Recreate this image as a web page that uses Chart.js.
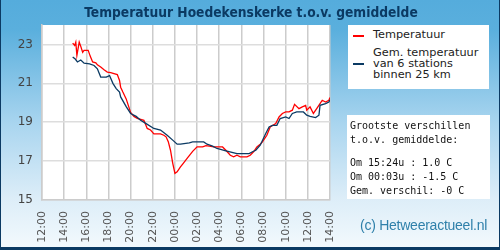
<!DOCTYPE html>
<html>
<head>
  <title>Temperatuur Hoedekenskerke</title>
  <script src="https://cdn.jsdelivr.net/npm/chart.js"></script>
  <style>
    body { margin: 0; }
    #frame {
      position: relative; width: 500px; height: 250px; box-sizing: border-box; overflow: hidden;
      border-left: 1px solid #0b3a63; border-right: 1px solid #0b3a63; border-bottom: 3px solid #0b3a63;
      background: linear-gradient(#55acdc 0%, #5aafdd 12%, #a9d5ef 50%, #dcedf8 80%, #f2f9fd 100%);
      font-family: "DejaVu Sans", sans-serif;
    }
    #chartBox { position: absolute; left: -1px; top: 0; width: 500px; height: 250px; }
    #title {
      position: absolute; left: 0; top: 4px; width: 500px; text-align: center;
      font-family: "DejaVu Sans Condensed", "DejaVu Sans", sans-serif; font-weight: bold; font-size: 13.7px; color: #0b3a63;
    }
    .box { position: absolute; background: #fff; }
    #legend { left: 347px; top: 25px; width: 141px; height: 64px; font-size: 11.3px; color: #222; }
    .leg-line { position: absolute; left: 5px; width: 11px; height: 2px; }
    .leg-text { position: absolute; left: 25px; line-height: 10.8px; }
    #info { left: 346px; top: 115px; width: 143px; height: 84px; font-family: "DejaVu Sans Mono", monospace; font-size: 10px; color: #111; }
    #info div { position: absolute; left: 3px; white-space: pre; }
    #credit {
      position: absolute; left: 359px; top: 217px; font-family: "Liberation Sans", Arial, sans-serif;
      font-size: 14px; letter-spacing: -0.25px; color: #2f80aa;
    }
  </style>
</head>
<body>
<div id="frame">
  <div id="chartBox"><canvas id="tempChart" width="500" height="250"></canvas></div>
  <div id="title">Temperatuur Hoedekenskerke t.o.v. gemiddelde</div>
  <div id="legend" class="box">
    <div class="leg-line" style="top:10px;background:#ff0000"></div>
    <div class="leg-text" style="top:5px">Temperatuur</div>
    <div class="leg-line" style="top:38px;background:#0b3a63"></div>
    <div class="leg-text" style="top:23px">Gem. temperatuur<br>van 6 stations<br>binnen 25 km</div>
  </div>
  <div id="info" class="box">
    <div style="top:5px">Grootste verschillen</div>
    <div style="top:19px">t.o.v. gemiddelde:</div>
    <div style="top:42px">Om 15:24u : 1.0 C</div>
    <div style="top:56px">Om 00:03u : -1.5 C</div>
    <div style="top:70px">Gem. verschil: -0 C</div>
  </div>
  <div id="credit">(c) Hetweeractueel.nl</div>
</div>

<script>
  // x = hours since 12:00 on the first day
  const xTickLabels = ['12:00', '14:00', '16:00', '18:00', '20:00', '22:00', '00:00',
    '02:00', '04:00', '06:00', '08:00', '10:00', '12:00', '14:00'];
  const yTickValues = [15, 17, 19, 21, 23];

  const tempHours = [2.77, 2.95, 3.05, 3.15, 3.36, 3.5, 3.67, 3.8, 4.17, 4.35, 4.57, 4.86, 5.0, 5.3, 5.6, 5.9,
    6.2, 6.5, 6.8, 7.0, 7.1, 7.3, 7.6, 8.0, 8.3, 8.6, 9.2, 9.5, 9.8, 10.1, 10.7, 11.0, 11.2, 11.4, 11.6, 11.8,
    12.0, 12.2, 12.5, 12.7, 13.1, 13.6, 14.0, 14.5, 14.8, 15.1, 15.5, 16.3, 16.6, 17.0, 17.3, 17.6, 17.9, 18.5,
    18.8, 19.1, 19.4, 19.7, 19.9, 20.3, 20.6, 21.1, 21.4, 21.7, 22.0, 22.3, 22.6, 22.8, 23.2, 23.5, 23.8, 23.9,
    24.2, 24.5, 24.8, 25.1, 25.3, 25.6, 25.9, 26.0];
  const tempValues = [23.07, 22.95, 23.12, 22.44, 23.12, 22.9, 22.6, 22.7, 22.7, 22.4, 22.1, 22.05, 21.95, 21.84, 21.7, 21.58,
    21.55, 21.5, 21.45, 21.15, 20.8, 20.55, 20.2, 19.5, 19.3, 19.2, 19.1, 18.68, 18.6, 18.4, 18.4, 18.33, 18.25, 18.0, 17.56, 16.9,
    16.37, 16.45, 16.7, 16.85, 17.14, 17.5, 17.73, 17.73, 17.8, 17.77, 17.73, 17.73, 17.56, 17.3, 17.22, 17.3, 17.22, 17.22,
    17.3, 17.48, 17.73, 17.87, 17.99, 18.33, 18.76, 18.93, 19.27, 19.45, 19.53, 19.53, 19.62, 19.92, 19.7, 19.79, 19.87, 19.62,
    19.79, 19.45, 19.7, 19.96, 20.13, 20.04, 20.13, 20.27];

  const avgHours = [2.77, 3.0, 3.2, 3.5, 3.8, 4.3, 4.7, 5.0, 5.3, 5.8, 6.1, 6.4, 6.7, 7.0, 7.1, 7.6, 8.0, 8.5, 8.9,
    9.4, 10.1, 10.7, 11.3, 11.8, 12.2, 12.5, 13.3, 13.6, 14.6, 14.9, 15.4, 15.8, 16.6, 17.6, 18.7, 19.0, 19.3, 19.7,
    20.2, 20.5, 20.8, 21.2, 21.5, 22.0, 22.3, 22.6, 23.0, 23.6, 23.9, 24.2, 24.7, 25.0, 25.1, 25.6, 25.9, 26.0];
  const avgValues = [22.35, 22.25, 22.1, 22.2, 22.04, 22.0, 21.92, 21.75, 21.32, 21.32, 21.4, 21.0, 20.73, 20.55, 20.3, 19.8, 19.45, 19.3, 19.1,
    18.93, 18.68, 18.6, 18.33, 18.08, 17.87, 17.87, 17.94, 17.99, 17.99, 17.87, 17.77, 17.65, 17.53, 17.39, 17.39, 17.48, 17.56, 17.82,
    18.42, 18.76, 18.84, 18.84, 19.19, 19.27, 19.19, 19.45, 19.53, 19.53, 19.36, 19.3, 19.24, 19.36, 19.87, 19.96, 20.04, 20.16];

  const toPoints = (xs, ys) => xs.map((x, i) => ({ x: x, y: ys[i] }));

  // white plot background
  const plotBackground = {
    id: 'plotBackground',
    beforeDraw(chart) {
      const a = chart.chartArea, ctx = chart.ctx;
      ctx.save();
      ctx.fillStyle = '#ffffff';
      ctx.fillRect(a.left, a.top, a.right - a.left, a.bottom - a.top);
      ctx.restore();
    }
  };

  new Chart(document.getElementById('tempChart'), {
    type: 'line',
    data: {
      datasets: [
        { label: 'Gem. temperatuur', data: toPoints(avgHours, avgValues), borderColor: '#0b3a63', borderWidth: 1.3, pointRadius: 0, tension: 0 },
        { label: 'Temperatuur', data: toPoints(tempHours, tempValues), borderColor: '#ff0000', borderWidth: 1.3, pointRadius: 0, tension: 0 }
      ]
    },
    plugins: [plotBackground],
    options: {
      responsive: false,
      animation: false,
      layout: { padding: { top: 25, right: 170, left: 0, bottom: 0 } },
      plugins: { legend: { display: false }, tooltip: { enabled: false } },
      scales: {
        x: {
          type: 'linear', min: 0, max: 26,
          afterFit: s => { s.height = 50; },
          grid: { color: '#cccccc', lineWidth: 1.5, drawTicks: false },
          border: { color: '#cccccc', width: 1.5 },
          ticks: {
            stepSize: 2, minRotation: 90, maxRotation: 90, padding: 11,
            color: '#555', font: { family: 'DejaVu Sans', size: 11 },
            callback: v => xTickLabels[v / 2]
          }
        },
        y: {
          min: 15, max: 24,
          afterFit: s => { s.width = 42; },
          afterBuildTicks: s => { s.ticks = yTickValues.map(v => ({ value: v })); },
          grid: { color: '#dddddd', lineWidth: 1.5, drawTicks: false },
          border: { color: '#cccccc', width: 1.5 },
          ticks: {
            padding: 9,
            color: '#444', font: { family: 'DejaVu Sans', size: 12 }
          }
        }
      }
    }
  });
</script>
</body>
</html>
